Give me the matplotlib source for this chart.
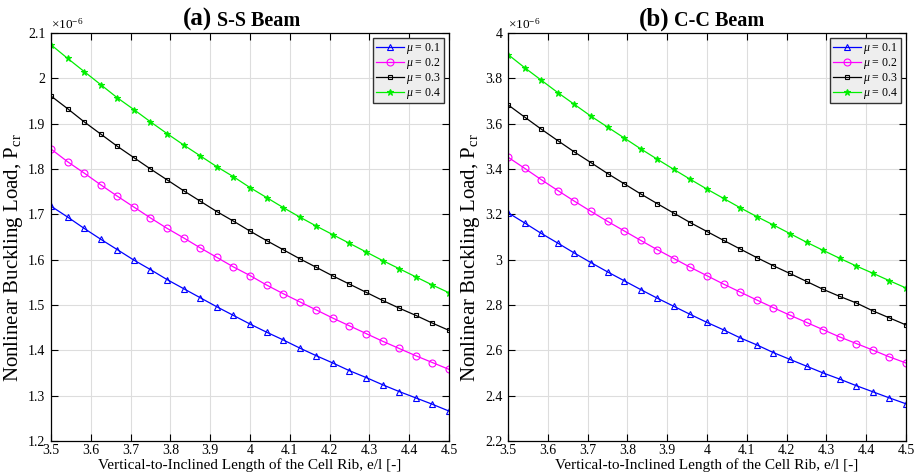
import matplotlib
matplotlib.use("Agg")
import matplotlib.pyplot as plt
from matplotlib.ticker import FormatStrFormatter, MultipleLocator

plt.rcParams["font.family"] = ["Liberation Serif", "DejaVu Serif"]
plt.rcParams["mathtext.fontset"] = "custom"
plt.rcParams["mathtext.rm"] = "Liberation Serif"
plt.rcParams["mathtext.it"] = "Liberation Serif:italic"

# e/l ratio (25 samples)
ratio = [3.5, 3.5417, 3.5833, 3.625, 3.6667, 3.7083, 3.75, 3.7917, 3.8333, 3.875,
         3.9167, 3.9583, 4.0, 4.0417, 4.0833, 4.125, 4.1667, 4.2083, 4.25, 4.2917,
         4.3333, 4.375, 4.4167, 4.4583, 4.5]

mu_labels = [r"$\mu$ = 0.1", r"$\mu$ = 0.2", r"$\mu$ = 0.3", r"$\mu$ = 0.4"]

# S-S beam, P_cr x 1e-6
ss_mu1 = [1.718, 1.694, 1.669, 1.645, 1.622, 1.599, 1.578, 1.556, 1.536, 1.516,
          1.496, 1.477, 1.458, 1.440, 1.423, 1.405, 1.388, 1.372, 1.355, 1.340,
          1.324, 1.309, 1.295, 1.281, 1.266]
ss_mu2 = [1.844, 1.816, 1.791, 1.765, 1.740, 1.716, 1.692, 1.669, 1.648, 1.626,
          1.605, 1.584, 1.565, 1.544, 1.525, 1.507, 1.489, 1.471, 1.454, 1.437,
          1.420, 1.404, 1.388, 1.373, 1.358]
ss_mu3 = [1.961, 1.933, 1.904, 1.877, 1.850, 1.825, 1.800, 1.776, 1.752, 1.729,
          1.706, 1.685, 1.663, 1.642, 1.622, 1.602, 1.583, 1.564, 1.546, 1.528,
          1.510, 1.493, 1.477, 1.460, 1.444]
ss_mu4 = [2.074, 2.044, 2.015, 1.986, 1.957, 1.931, 1.904, 1.878, 1.853, 1.829,
          1.805, 1.783, 1.759, 1.737, 1.715, 1.694, 1.674, 1.655, 1.636, 1.617,
          1.598, 1.580, 1.562, 1.544, 1.527]

# C-C beam, P_cr x 1e-6
cc_mu1 = [3.207, 3.162, 3.116, 3.073, 3.029, 2.987, 2.946, 2.907, 2.868, 2.830,
          2.794, 2.758, 2.723, 2.690, 2.655, 2.624, 2.590, 2.560, 2.530, 2.500,
          2.473, 2.444, 2.417, 2.390, 2.364]
cc_mu2 = [3.452, 3.403, 3.353, 3.305, 3.258, 3.213, 3.169, 3.127, 3.085, 3.044,
          3.005, 2.966, 2.929, 2.892, 2.857, 2.822, 2.788, 2.755, 2.723, 2.691,
          2.659, 2.630, 2.601, 2.571, 2.544]
cc_mu3 = [3.683, 3.629, 3.576, 3.525, 3.475, 3.428, 3.380, 3.335, 3.290, 3.247,
          3.205, 3.163, 3.124, 3.085, 3.047, 3.009, 2.973, 2.939, 2.904, 2.869,
          2.838, 2.809, 2.774, 2.743, 2.712]
cc_mu4 = [3.905, 3.847, 3.792, 3.737, 3.685, 3.633, 3.585, 3.537, 3.489, 3.443,
          3.398, 3.354, 3.311, 3.270, 3.229, 3.190, 3.153, 3.115, 3.077, 3.041,
          3.006, 2.972, 2.940, 2.907, 2.875]

styles = [
    dict(color="#0000ff", marker="^", mfc="none", ms=5),
    dict(color="#ff00ff", marker="o", mfc="none", ms=5),
    dict(color="#000000", marker="s", mfc="none", ms=3.5),
    dict(color="#00ee00", marker="*", ms=5),
]


def draw_panel(ax, series, ylim, ystep, tag, name):
    for vals, label, st in zip(series, mu_labels, styles):
        ax.plot(ratio, vals, lw=0.9, mew=0.8, label=label, **st)

    ax.set_xlim(3.5, 4.5)
    ax.set_ylim(*ylim)
    ax.xaxis.set_major_locator(MultipleLocator(0.1))
    ax.yaxis.set_major_locator(MultipleLocator(ystep))
    ax.xaxis.set_major_formatter(FormatStrFormatter("%g"))
    ax.yaxis.set_major_formatter(FormatStrFormatter("%g"))
    ax.tick_params(direction="in", top=True, right=True, length=5, width=0.8,
                   labelsize=10)
    ax.tick_params(axis="x", pad=2.5)
    ax.tick_params(axis="y", pad=4)
    ax.grid(True, color="#dddddd", lw=0.8)
    ax.set_axisbelow(True)
    for sp in ax.spines.values():
        sp.set_linewidth(0.9)

    ax.set_xlabel("Vertical-to-Inclined Length of the Cell Rib, e/l [-]",
                  fontsize=11, labelpad=0.5)
    ax.set_ylabel(r"Nonlinear Buckling Load, P$_{\rm cr}$", fontsize=15)
    ax.yaxis.set_label_coords(-0.066, 0.45)

    ax.text(0.0, 1.004, r"$\times10^{-6}$", transform=ax.transAxes,
            fontsize=9.5, ha="left", va="bottom")
    ax.text(0.405, 1.018, tag, transform=ax.transAxes, fontsize=18,
            fontweight="bold", ha="right", va="baseline")
    ax.text(0.417, 1.018, name, transform=ax.transAxes, fontsize=14.5,
            fontweight="bold", ha="left", va="baseline")

    leg = ax.legend(loc="upper right", fontsize=8.5, fancybox=False,
                    borderaxespad=0.45, handlelength=2.4, handletextpad=0.2,
                    labelspacing=0.0, borderpad=0.2)
    leg.get_frame().set_facecolor("#eeeeee")
    leg.get_frame().set_edgecolor("#333333")
    leg.get_frame().set_alpha(1)
    leg.get_frame().set_linewidth(1.0)


fig = plt.figure(figsize=(9.17, 4.73), dpi=100)
ax1 = fig.add_axes([0.0556, 0.0677, 0.434, 0.8626])
ax2 = fig.add_axes([0.554, 0.0677, 0.434, 0.8626])

draw_panel(ax1, [ss_mu1, ss_mu2, ss_mu3, ss_mu4], (1.2, 2.1), 0.1, "(a)", "S-S Beam")
draw_panel(ax2, [cc_mu1, cc_mu2, cc_mu3, cc_mu4], (2.2, 4.0), 0.2, "(b)", "C-C Beam")

fig.savefig("out.png", dpi=100)
